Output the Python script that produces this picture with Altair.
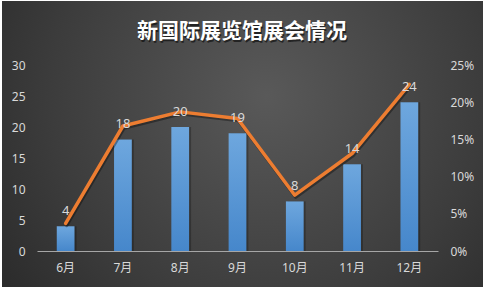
import altair as alt
import pandas as pd

months = ["6月", "7月", "8月", "9月", "10月", "11月", "12月"]
counts = [4, 18, 20, 19, 8, 14, 24]
shares = [0.037, 0.168, 0.187, 0.178, 0.075, 0.131, 0.224]
title_text = "新国际展览馆展会情况"

df = pd.DataFrame({"month": months, "count": counts, "share": shares})

W, H = 401, 186
PL, PT, PR, PB = 37, 65, 46, 37
FONT = "Noto Sans, Noto Sans CJK SC, sans-serif"
LABEL = "#d9d9d9"

xenc = alt.X("month:N", sort=months,
             scale=alt.Scale(paddingInner=0.69, paddingOuter=0.345),
             axis=alt.Axis(title=None, labelAngle=0, ticks=False, domainColor="#a6a6a6",
                           domainWidth=1, labelColor=LABEL, labelFontSize=12, labelFont=FONT,
                           labelPadding=11, zindex=1))

base = alt.Chart(df)

bg = alt.Chart(pd.DataFrame({"a": [0]})).mark_rect(
    fill={"gradient": "radial", "x1": 0.55, "y1": 0.4, "r1": 0, "x2": 0.55, "y2": 0.4, "r2": 0.75,
          "stops": [{"offset": 0, "color": "#595959"}, {"offset": 0.6, "color": "#3c3c3c"},
                    {"offset": 1, "color": "#262626"}]},
    clip=False
).encode(x=alt.value(-PL + 2), x2=alt.value(W + PR - 1),
         y=alt.value(-PT + 1), y2=alt.value(H + PB - 1))

title_shadow = alt.Chart(pd.DataFrame({"t": [title_text]})).mark_text(
    font="Noto Sans CJK SC", fontWeight="bold", fontSize=21, color="#000000", opacity=0.55,
    align="center", baseline="middle"
).encode(x=alt.value(206), y=alt.value(-31.5), text="t:N")
title = alt.Chart(pd.DataFrame({"t": [title_text]})).mark_text(
    font="Noto Sans CJK SC", fontWeight="bold", fontSize=21, color="#ffffff",
    align="center", baseline="middle"
).encode(x=alt.value(205), y=alt.value(-33), text="t:N")

bar_shadow = base.mark_bar(color="#000000", opacity=0.25, xOffset=2).encode(
    x=xenc,
    y=alt.Y("count:Q", scale=alt.Scale(domain=[0, 30]), axis=None),
)
bars = base.mark_bar(
    fill={"gradient": "linear", "x1": 0, "y1": 0, "x2": 0, "y2": 1,
          "stops": [{"offset": 0, "color": "#6ea7de"}, {"offset": 1, "color": "#4687cb"}]}
).encode(
    x=xenc,
    y=alt.Y("count:Q", scale=alt.Scale(domain=[0, 30]),
            axis=alt.Axis(orient="left", title=None, values=[0, 5, 10, 15, 20, 25, 30],
                          grid=False, ticks=False, domain=False, labelColor=LABEL,
                          labelFontSize=12, labelFont=FONT, labelPadding=12, zindex=1)),
)

line_shadow = base.mark_line(color="#000000", opacity=0.35, strokeWidth=3.5,
                             xOffset=1, yOffset=2, strokeJoin="round", strokeCap="round").encode(
    x=xenc,
    y=alt.Y("share:Q", scale=alt.Scale(domain=[0, 0.25]), axis=None),
)
line = base.mark_line(color="#ed7d31", strokeWidth=3.5, strokeJoin="round",
                      strokeCap="round").encode(
    x=xenc,
    y=alt.Y("share:Q", scale=alt.Scale(domain=[0, 0.25]),
            axis=alt.Axis(orient="right", title=None, format=".0%",
                          values=[0, 0.05, 0.10, 0.15, 0.20, 0.25],
                          grid=False, ticks=False, domain=False, labelColor=LABEL,
                          labelFontSize=12, labelFont=FONT, labelPadding=12, zindex=1)),
)
labels = base.mark_text(color=LABEL, fontSize=13, font=FONT, dy=-15,
                        baseline="middle").encode(
    x=xenc,
    y=alt.Y("count:Q", scale=alt.Scale(domain=[0, 30]), axis=None),
    text="count:Q",
)

chart = alt.layer(
    bg, title_shadow, title, bar_shadow, bars, line_shadow, line, labels
).resolve_scale(y="independent").properties(
    width=W, height=H,
    padding={"left": PL, "top": PT, "right": PR, "bottom": PB},
    autosize=alt.AutoSizeParams(type="none"),
    background="#ffffff",
).configure_view(stroke=None)

chart.save("out.html", embed_options={"renderer": "svg", "actions": False})
